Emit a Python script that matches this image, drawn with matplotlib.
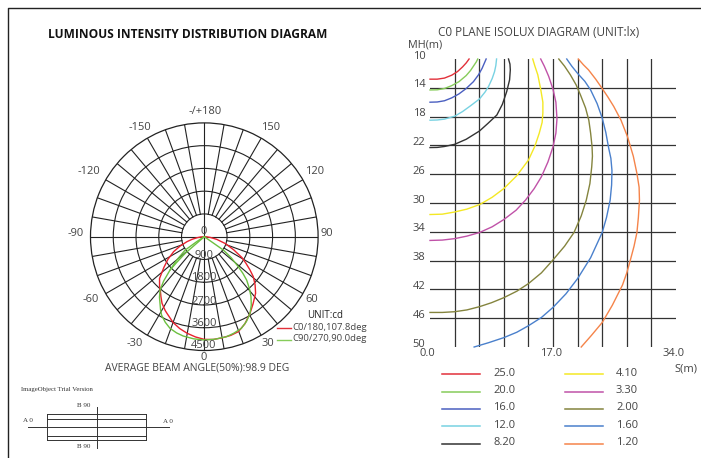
import matplotlib
matplotlib.use("Agg")
import numpy as np
import matplotlib.pyplot as plt

plt.rcParams['font.family'] = ['Open Sans', 'DejaVu Sans']

# -----------------------------
# Polar data (angle deg, candela)
# -----------------------------
red_angles = [-90, -86, -82, -78, -74, -69, -64, -58, -52.7, -47, -42.5, -39.5, -36, -32.4, -28, -26, -20, -15, -10, -5,
              0, 5, 10, 15, 19.7, 25, 30.8, 36, 42.2, 46.5, 50.8, 54, 57.5, 61, 66, 72, 78, 83, 87, 90]
red_cd = [0, 130, 290, 490, 712, 1020, 1350, 1700, 2010, 2420, 2620, 2735, 2920, 3120, 3300, 3370, 3610, 3760, 3880, 3980,
          4060, 4080, 4060, 4040, 3990, 3800, 3530, 3280, 3020, 2770, 2500, 2230, 1950, 1700, 1270, 870, 500, 240, 90, 0]

green_angles = [-57, -57, -55, -50, -45.8, -42.5, -39.7, -36.5, -33.6, -31, -28.6, -24.5, -20.5, -16, -12, -6,
                0, 6, 12.6, 17, 22, 26.5, 30.8, 34.5, 37.9, 41, 44.3, 46.5, 48.6, 52, 55, 55, 55]
green_cd = [0, 360, 930, 1400, 1890, 2380, 2740, 2980, 3165, 3360, 3530, 3720, 3870, 3960, 4015, 4060,
            4085, 4075, 4050, 3990, 3910, 3740, 3530, 3280, 3005, 2720, 2400, 2100, 1790, 1350, 920, 365, 0]

green_inner_angles = [-60, -49, -49, -47, -45.8]
green_inner_cd = [0, 500, 1000, 1500, 1890]

ring_values = [900, 1800, 2700, 3600]
ring_labels = ["0", "900", "1800", "2700", "3600", "4500"]
ring_label_y = [232, 255, 278, 301, 323, 346]

angle_labels = ["-/+180", "150", "-150", "120", "-120", "90", "-90", "60", "-60", "30", "-30", "0"]
angle_label_x = [205, 271, 140, 315, 89, 327, 76, 312, 91, 268, 135, 204]
angle_label_y = [112, 128, 128, 171, 171, 233, 233, 300, 300, 343, 343, 358]

# -----------------------------
# Isolux data (S m, MH m)
# -----------------------------
iso_levels = ["25.0", "20.0", "16.0", "12.0", "8.20", "4.10", "3.30", "2.00", "1.60", "1.20"]
iso_colors = ["#e2303a", "#86cc5a", "#4a5fc0", "#78d2e2", "#333333",
              "#f4e824", "#c052a8", "#84843e", "#4a80cc", "#f5844a"]

s_25 = [0, 1, 2, 3, 3.8, 4.5, 5, 5.4]
h_25 = [12.8, 12.8, 12.65, 12.25, 11.75, 11.1, 10.55, 10]
s_20 = [0, 1, 2, 3, 4, 5, 5.6, 6.1, 6.4, 6.6]
h_20 = [14.3, 14.28, 14.1, 13.7, 13.15, 12.3, 11.6, 10.85, 10.4, 10]
s_16 = [0, 1, 2, 3, 4, 5, 6, 6.7, 7.2, 7.5, 7.76]
h_16 = [16, 15.97, 15.8, 15.4, 14.85, 14.1, 13.15, 12.2, 11.3, 10.6, 10]
s_12 = [0, 1, 2, 3.4, 4.5, 5.6, 6.84, 7.6, 8.08, 8.6, 8.92, 9.1, 9.2]
h_12 = [18.5, 18.47, 18.35, 17.95, 17.3, 16.5, 15.55, 14.6, 13.84, 12.7, 11.76, 10.9, 10]
s_8 = [0, 1, 2, 3.4, 5, 6.84, 8, 9.24, 10, 10.6, 11, 11.1, 11.05, 10.85]
h_8 = [22.3, 22.28, 22.15, 21.85, 21.15, 20, 18.95, 17.78, 16.3, 14.53, 12.9, 11.5, 10.7, 10]
s_4 = [0, 1.7, 3.4, 5.1, 6.9, 8.6, 10.2, 12, 13.6, 14.5, 15.1, 15.5, 15.6, 15.6, 15.3, 14.9, 14.5, 14.2]
h_4 = [31.6, 31.55, 31.25, 30.85, 30.2, 29.2, 28, 26.2, 24.05, 22.1, 20.3, 18.8, 17.5, 16, 14.2, 12.2, 11, 10]
s_3 = [0, 1.7, 3.4, 5.1, 6.84, 8.6, 10.2, 11.9, 13.2, 14.4, 15.4, 16.3, 17, 17.4, 17.55, 17.4, 17, 16.4, 15.8, 15.3]
h_3 = [35.2, 35.15, 34.95, 34.6, 34.1, 33.3, 32.3, 31, 29.6, 28, 26.35, 24.3, 22.2, 20.3, 18.3, 16, 14.2, 12.4, 11, 10]
s_2 = [0, 1.7, 3.4, 5.1, 6.84, 8.5, 10.2, 12, 13.6, 15.4, 17, 18.6, 19.9, 20.9, 21.6, 22.1, 22.35, 22.45, 22.4, 22.2,
       21.95, 21.5, 20.8, 20.2, 19.4, 18.6, 17.8]
h_2 = [45.2, 45.2, 45.1, 44.85, 44.4, 43.85, 43.15, 42.25, 41.2, 39.7, 37.9, 36, 34.1, 31.8, 29.6, 27.3, 25, 23.5, 22.2, 20.3,
       18.5, 16.8, 15, 13.6, 12.2, 11, 10]
s_16b = [6.1, 8.1, 10.2, 12, 13.6, 15.4, 17, 18.8, 20.4, 22.2, 23.8, 24.4, 24.9, 25.1, 25.15, 25, 24.7, 24.3, 23.8, 23.1,
         22.2, 21.4, 20.4, 19.6, 18.9]
h_16b = [50, 49.4, 48.7, 47.95, 47.05, 45.9, 44.5, 42.6, 40.5, 37.6, 34.1, 32, 29.6, 27.5, 25.5, 23.8, 22.4, 20.2, 18.2, 16.2,
         14.3, 13.1, 12, 11, 10]
s_12b = [20.9, 22.3, 23.8, 25.2, 26.6, 27.2, 27.7, 28.2, 28.6, 28.8, 28.95, 28.9, 28.6, 28.1, 27.3, 26.4, 25.4, 24.6, 23.8,
         22.9, 21.9, 21.2, 20.5]
h_12b = [50, 48.4, 46.6, 44.2, 41.4, 39.7, 37.9, 36, 34.1, 32, 29.6, 27.8, 25.9, 23.5, 20.8, 18.5, 16.6, 15.3, 14.1,
         12.8, 11.5, 10.8, 10]

iso_s = [s_25, s_20, s_16, s_12, s_8, s_4, s_3, s_2, s_16b, s_12b]
iso_h = [h_25, h_20, h_16, h_12, h_8, h_4, h_3, h_2, h_16b, h_12b]

s_grid = [3.4, 6.8, 10.2, 13.6, 17.0, 20.4, 23.8, 27.2, 30.6]
mh_grid = [14, 18, 22, 26, 30, 34, 38, 42, 46]
mh_labels = [10, 14, 18, 22, 26, 30, 34, 38, 42, 46, 50]
s_labels = [0.0, 17.0, 34.0]

W, H = 701, 458
TXT = "#444444"

fig = plt.figure(figsize=(W / 100, H / 100), dpi=100)

# -----------------------------
# Overlay in pixel coordinates
# -----------------------------
bg = fig.add_axes([0, 0, 1, 1], zorder=3)
bg.patch.set_alpha(0)
bg.set_xlim(0, W)
bg.set_ylim(H, 0)
bg.axis("off")

bg.plot([8, 8, W], [H, 8, 8], color="#222222", lw=1.0)
bg.text(48, 35, "LUMINOUS INTENSITY DISTRIBUTION DIAGRAM", fontsize=8.6, fontweight="bold",
        color="#111111", ha="left", va="center")
bg.text(539, 33, "C0 PLANE ISOLUX DIAGRAM (UNIT:lx)", fontsize=8.5, color=TXT, ha="center", va="center")
bg.text(425, 45, "MH(m)", fontsize=7.8, color=TXT, ha="center", va="center")
bg.text(686, 369, "S(m)", fontsize=8, color=TXT, ha="center", va="center")
bg.text(197, 368, "AVERAGE BEAM ANGLE(50%):98.9 DEG", fontsize=7.5, color=TXT, ha="center", va="center")

for lab, x, y in zip(angle_labels, angle_label_x, angle_label_y):
    bg.text(x, y, lab, fontsize=8, color=TXT, ha="center", va="center")

# legend of the polar chart
bg.text(325, 316, "UNIT:cd", fontsize=7, color="#222222", ha="center", va="center")
bg.plot([277, 291], [328, 328], color="#e2303a", lw=1)
bg.plot([277, 291], [340, 340], color="#86cc5a", lw=1)
bg.text(292, 327, "C0/180,107.8deg", fontsize=6.8, color=TXT, ha="left", va="center")
bg.text(292, 338.5, "C90/270,90.0deg", fontsize=6.8, color=TXT, ha="left", va="center")

# legend of the isolux chart
legend_y = [374, 391.7, 409, 426, 443.7]
for i, lab in enumerate(iso_levels):
    col = i // 5
    y = legend_y[i % 5]
    x0 = 442 + col * 123
    bg.plot([x0, x0 + 38], [y, y], color=iso_colors[i], lw=1.1)
    bg.text(x0 + 51, y - 1, lab, fontsize=8, color=TXT, ha="left", va="center")

# lamp sketch
bg.text(21, 389, "ImageObject Trial Version", fontsize=4.9, family="Liberation Serif", color="#333333", ha="left", va="center")
for y in [414.3, 419.3, 435.7, 440.3]:
    bg.plot([47.3, 145.7], [y, y], color="#333333", lw=0.7)
for x in [47.3, 145.7]:
    bg.plot([x, x], [414.3, 440.3], color="#333333", lw=0.7)
bg.plot([28, 169], [426.7, 426.7], color="#333333", lw=0.7)
bg.plot([96.7, 96.7], [406.7, 448], color="#333333", lw=0.7)
for x, y, lab in [(84, 405.7, "B 90"), (84, 447, "B 90"), (28, 420.7, "A 0"), (168, 421.7, "A 0")]:
    bg.text(x, y, lab, fontsize=5, family="Liberation Serif", color="#333333", ha="center", va="center")

# -----------------------------
# Polar diagram
# -----------------------------
cx, cy, R = 204.3, 236.7, 113.8
ax = fig.add_axes([(cx - R) / W, (H - cy - R) / H, 2 * R / W, 2 * R / H], projection="polar")
ax.patch.set_alpha(0)
ax.set_theta_zero_location("S")
ax.set_rlim(0, 4500)
ax.set_xticks([])
ax.set_yticks(ring_values)
ax.set_yticklabels([])
ax.tick_params(length=0)
ax.grid(True, axis="y", color="#222222", lw=0.8)
ax.spines["polar"].set_color("#222222")
ax.spines["polar"].set_linewidth(0.9)

for deg in range(-170, 190, 10):
    start = 0 if deg % 90 == 0 else 900
    ax.plot(np.radians([deg, deg]), [start, 4500], color="#222222", lw=0.8)

ax.plot(np.radians(red_angles), red_cd, color="#e8222e", lw=1.0)
ax.plot(np.radians(green_angles), green_cd, color="#6cc040", lw=1.0)
ax.plot(np.radians(green_inner_angles), green_inner_cd, color="#6cc040", lw=1.0)
ax.set_rlim(0, 4500)

for lab, y in zip(ring_labels, ring_label_y):
    bg.text(204, y, lab, fontsize=8, color=TXT, ha="center", va="center")

# -----------------------------
# Isolux diagram
# -----------------------------
iso = fig.add_axes([430 / W, (H - 347) / H, 246 / W, 288 / H])
iso.patch.set_alpha(0)
iso.set_xlim(0, 34)
iso.set_ylim(50, 10)
for sp in iso.spines.values():
    sp.set_visible(False)
iso.set_xticks(s_grid)
iso.set_yticks(mh_grid)
iso.set_xticklabels([])
iso.set_yticklabels([])
iso.tick_params(length=0)
iso.grid(True, color="#333333", lw=0.9)
iso.set_axisbelow(True)

for s, h, c in zip(iso_s, iso_h, iso_colors):
    iso.plot(s, h, color=c, lw=1.0, clip_on=False)

for v in mh_labels:
    iso.text(-1.5, v - 0.4, str(v), fontsize=8, color=TXT, ha="center", va="center", clip_on=False)
for v in s_labels:
    iso.text(v - 0.3, 50.85, f"{v:.1f}", fontsize=8, color=TXT, ha="center", va="center", clip_on=False)

fig.savefig("out.png", dpi=100)
